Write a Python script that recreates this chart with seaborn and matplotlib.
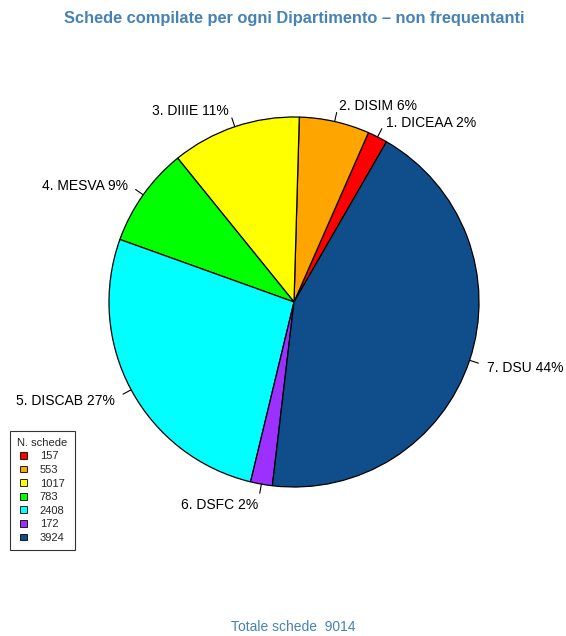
import numpy as np
import matplotlib
matplotlib.use("Agg")
import matplotlib.pyplot as plt
import matplotlib.patches as mpatches
import seaborn as sns

# === Data ===
dipartimenti = ["DICEAA", "DISIM", "DIIIE", "MESVA", "DISCAB", "DSFC", "DSU"]
schede = [157, 553, 1017, 783, 2408, 172, 3924]
colori = ["#FF0000", "#FFA500", "#FFFF00", "#00FF00", "#00FFFF", "#9B30FF", "#104E8B"]
titolo = "Schede compilate per ogni Dipartimento \u2013 non frequentanti"

totale = sum(schede)
perc = [round(100 * v / totale) for v in schede]
etichette = [f"{i + 1}. {d} {p}%" for i, (d, p) in enumerate(zip(dipartimenti, perc))]

# === Style ===
sns.set_theme(style="white")
plt.rcParams["font.family"] = ["Liberation Sans", "DejaVu Sans"]

W, H = 566, 636
fig = plt.figure(figsize=(W / 100, H / 100), dpi=100)

# pie axes: unit radius = 185 px, centre at (294, 302) px from top-left
R_PX = 185
L = 1.5
cx, cy = 294, 302
side = 2 * L * R_PX
ax = fig.add_axes([(cx - side / 2) / W, (H - cy - side / 2) / H, side / W, side / H])

wedges, _ = ax.pie(schede, colors=colori, startangle=60, counterclock=True,
                   radius=1.0,
                   wedgeprops=dict(edgecolor="black", linewidth=0.9))
ax.set_xlim(-L, L)
ax.set_ylim(-L, L)
ax.set_aspect("equal")
ax.axis("off")

# === Labels with tick marks (R style) ===
for w, lab in zip(wedges, etichette):
    ang = np.deg2rad((w.theta1 + w.theta2) / 2)
    x, y = np.cos(ang), np.sin(ang)
    ax.plot([x, 1.05 * x], [y, 1.05 * y], color="black", lw=0.8)
    ax.text(1.1 * x, 1.1 * y - 0.012, lab, ha="left" if x > 0 else "right",
            va="center", fontsize=10, color="black")

# === Title and footer ===
fig.text(294 / W, 1 - 18 / H, titolo, ha="center", va="center",
         fontsize=11.8, fontweight="bold", color="#4682B4")
fig.text(293 / W, 1 - 627 / H, f"Totale schede  {totale}", ha="center",
         va="center", fontsize=10, color="#4682B4")

# === Legend ===
handles = [mpatches.Patch(facecolor=c, edgecolor="black", linewidth=0.6, label=str(v))
           for c, v in zip(colori, schede)]
leg = fig.legend(handles=handles, title="N. schede", loc="lower left",
                 bbox_to_anchor=(10 / W, (H - 550) / H), fontsize=8,
                 title_fontsize=8, frameon=True, fancybox=False,
                 handlelength=0.65, handleheight=0.55, handletextpad=1.1,
                 labelspacing=0.32, borderpad=0.65, borderaxespad=0,
                 alignment="center")
leg.get_frame().set_edgecolor("black")
leg.get_frame().set_linewidth(0.8)

fig.savefig("out.png", dpi=100, facecolor="white")
